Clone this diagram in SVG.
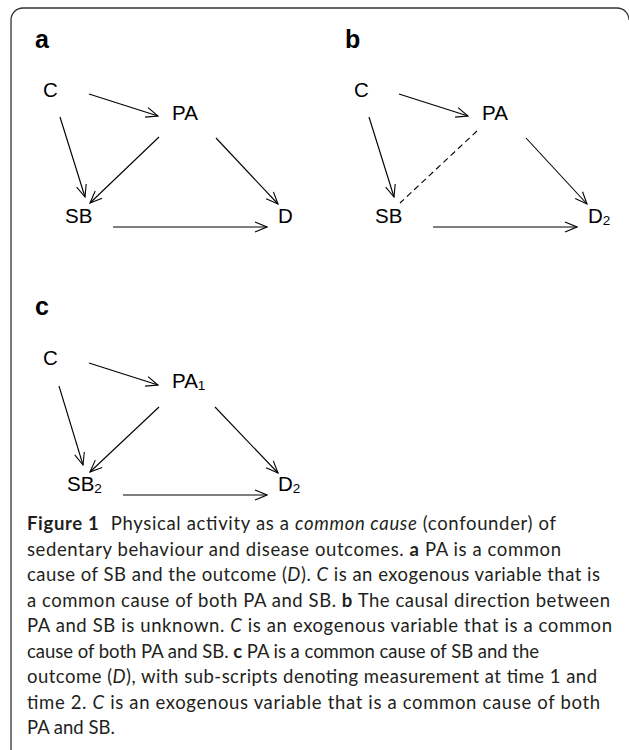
<svg xmlns="http://www.w3.org/2000/svg" width="629" height="750" viewBox="0 0 629 750">
<style>
.lbl{font-family:"Liberation Sans",Arial,sans-serif;font-size:20.5px;fill:#000}
.sub{font-size:13.5px}
.pl{font-family:"Liberation Sans",Arial,sans-serif;font-size:25px;font-weight:bold;fill:#000}
.e{fill:none;stroke:#000;stroke-width:1.1}
.dash{stroke-dasharray:6,4}
.cap{font-family:Lato,"Open Sans",sans-serif;font-size:18.5px;fill:#231f20}
.b{font-weight:bold}
.i{font-style:italic}
</style>
<defs>
<marker id="ah" viewBox="0 0 14 12" refX="13" refY="6" markerWidth="14" markerHeight="12" markerUnits="userSpaceOnUse" orient="auto">
<path d="M1,1 L13,6 L1,11" fill="none" stroke="#000" stroke-width="1.1"/>
</marker>
</defs>
<path id="frame" d="M11,750 V20 A12,12 0 0 1 23,8 H617 A12,12 0 0 1 629,20" fill="none" stroke="#333" stroke-width="1.3"/>
<g id="panel-labels">
<text class="pl" x="35" y="48">a</text>
<text class="pl" x="345" y="48">b</text>
<text class="pl" x="35" y="315">c</text>
</g>
<g id="connectors">
<line class="e" x1="89" y1="94" x2="158" y2="116" marker-end="url(#ah)"/>
<line class="e" x1="60" y1="117" x2="85" y2="197" marker-end="url(#ah)"/>
<line class="e" x1="159" y1="137" x2="90" y2="203" marker-end="url(#ah)"/>
<line class="e" x1="216" y1="138" x2="278" y2="204" marker-end="url(#ah)"/>
<line class="e" x1="113" y1="227" x2="267" y2="227" marker-end="url(#ah)"/>
<line class="e" x1="399" y1="94" x2="468" y2="116" marker-end="url(#ah)"/>
<line class="e" x1="369" y1="117" x2="394" y2="197" marker-end="url(#ah)"/>
<line class="e dash" x1="477" y1="131" x2="400" y2="203"/>
<line class="e" x1="526" y1="138" x2="587" y2="204" marker-end="url(#ah)"/>
<line class="e" x1="433" y1="227" x2="577" y2="227" marker-end="url(#ah)"/>
<line class="e" x1="89" y1="363" x2="158" y2="385" marker-end="url(#ah)"/>
<line class="e" x1="59" y1="386" x2="83" y2="465" marker-end="url(#ah)"/>
<line class="e" x1="159" y1="407" x2="90" y2="472" marker-end="url(#ah)"/>
<line class="e" x1="215" y1="407" x2="278" y2="473" marker-end="url(#ah)"/>
<line class="e" x1="123" y1="495" x2="267" y2="495" marker-end="url(#ah)"/>
</g>
<g id="a-C"><text class="lbl" x="43" y="97">C</text></g>
<g id="a-PA"><text class="lbl" x="172" y="120">PA</text></g>
<g id="a-SB"><text class="lbl" x="65" y="223">SB</text></g>
<g id="a-D"><text class="lbl" x="278" y="223">D</text></g>
<g id="b-C"><text class="lbl" x="354" y="97">C</text></g>
<g id="b-PA"><text class="lbl" x="482" y="120">PA</text></g>
<g id="b-SB"><text class="lbl" x="375" y="223">SB</text></g>
<g id="b-D2"><text class="lbl" x="588" y="223">D<tspan class="sub" dy="2">2</tspan></text></g>
<g id="c-C"><text class="lbl" x="43" y="365">C</text></g>
<g id="c-PA1"><text class="lbl" x="172" y="388">PA<tspan class="sub" dy="2">1</tspan></text></g>
<g id="c-SB2"><text class="lbl" x="67" y="491">SB<tspan class="sub" dy="2">2</tspan></text></g>
<g id="c-D2"><text class="lbl" x="278" y="491">D<tspan class="sub" dy="2">2</tspan></text></g>
<g id="caption" class="cap">
<text x="27" y="530" textLength="529" lengthAdjust="spacing"><tspan class="b">Figure 1</tspan><tspan dx="6"> Physical activity as a </tspan><tspan class="i">common cause</tspan> (confounder) of</text>
<text x="27" y="555.5" textLength="534" lengthAdjust="spacing">sedentary behaviour and disease outcomes. <tspan class="b">a</tspan> PA is a common</text>
<text x="27" y="581" textLength="573" lengthAdjust="spacing">cause of SB and the outcome (<tspan class="i">D</tspan>). <tspan class="i">C</tspan> is an exogenous variable that is</text>
<text x="27" y="606.5" textLength="583" lengthAdjust="spacing">a common cause of both PA and SB. <tspan class="b">b</tspan> The causal direction between</text>
<text x="27" y="632" textLength="585" lengthAdjust="spacing">PA and SB is unknown. <tspan class="i">C</tspan> is an exogenous variable that is a common</text>
<text x="27" y="657.5" textLength="512" lengthAdjust="spacing">cause of both PA and SB. <tspan class="b">c</tspan> PA is a common cause of SB and the</text>
<text x="27" y="683" textLength="570" lengthAdjust="spacing">outcome (<tspan class="i">D</tspan>), with sub-scripts denoting measurement at time 1 and</text>
<text x="27" y="708.5" textLength="573" lengthAdjust="spacing">time 2. <tspan class="i">C</tspan> is an exogenous variable that is a common cause of both</text>
<text x="27" y="734">PA and SB.</text>
</g>
</svg>
